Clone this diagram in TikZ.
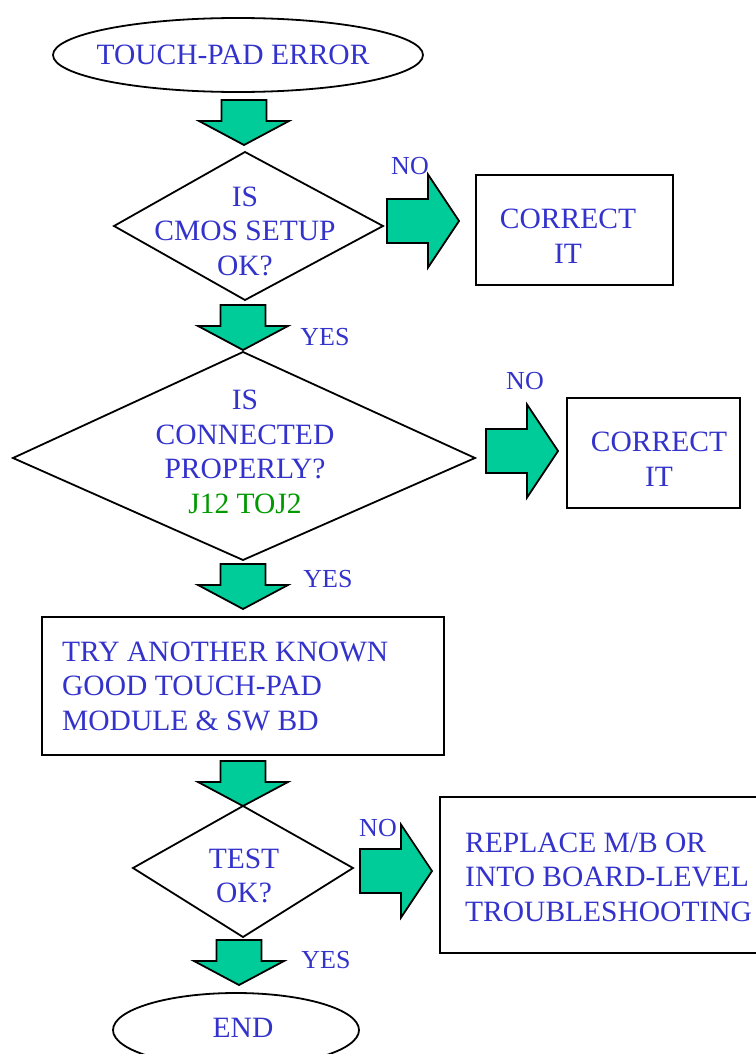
\documentclass[tikz,border=0pt]{standalone}
\usepackage{fontspec}
\setmainfont{Liberation Serif}
\usetikzlibrary{shapes.geometric}
\definecolor{tblue}{HTML}{3333CC}
\definecolor{tgreen}{HTML}{009900}
\definecolor{afill}{HTML}{00CC99}
\begin{document}
\begin{tikzpicture}[x=1pt,y=-1pt,
  outl/.style={draw=black,line width=1.8pt},
  txt/.style={text=tblue,font=\fontsize{29.5}{34.5}\selectfont,inner sep=0pt,align=center},
  lbl/.style={text=tblue,font=\fontsize{26}{30}\selectfont,inner sep=0pt},
  arr/.style={draw=black,line width=1.8pt,fill=afill,line join=miter},
  darr/.pic={\path[arr] (-22.5,0) -- (22.5,0) -- (22.5,21) -- (45,21) -- (0,45) -- (-45,21) -- (-22.5,21) -- cycle;},
  rarr/.pic={\path[arr] (0,-22) -- (41,-22) -- (41,-46.5) -- (72,0) -- (41,46.5) -- (41,22) -- (0,22) -- cycle;}
]
\useasboundingbox (0,0) rectangle (755,1054);
% start
\node[outl,ellipse,minimum width=370,minimum height=74,inner sep=0] (start) at (238,55) {};
\node[txt] (starttxt) at (233,55) {TOUCH-PAD ERROR};
% arrow 1
\pic (a1) at (244,100) {darr};
% diamond 1
\draw[outl] (245,152) coordinate (d1t) -- (383,226) coordinate (d1r) -- (245,300) coordinate (d1b) -- (114,226) coordinate (d1l) -- cycle;
\node[txt] (d1) at (245,231) {IS\\CMOS SETUP\\OK?};
\pic (n1) at (387,221) {rarr};
\node[lbl] (no1) at (410,166) {NO};
\node[outl,rectangle,minimum width=197,minimum height=110,inner sep=0] (b1) at (574.5,230) {};
\node[txt] (b1t) at (568,236) {CORRECT\\IT};
% arrow 2
\pic (a2) at (243,305) {darr};
\node[lbl] (yes1) at (325,337) {YES};
% diamond 2
\draw[outl] (243,352) coordinate (d2t) -- (475,458) coordinate (d2r) -- (243,560) coordinate (d2b) -- (13,458) coordinate (d2l) -- cycle;
\node[txt] (d2) at (245,452) {IS\\CONNECTED\\PROPERLY?\\\textcolor{tgreen}{J12 TOJ2}};
\pic (n2) at (486,451) {rarr};
\node[lbl] (no2) at (525,381) {NO};
\node[outl,rectangle,minimum width=173,minimum height=110,inner sep=0] (b2) at (653.5,453) {};
\node[txt] (b2t) at (659,459) {CORRECT\\IT};
% arrow 3
\pic (a3) at (243,564) {darr};
\node[lbl] (yes2) at (328,579) {YES};
% box 3
\node[outl,rectangle,minimum width=402,minimum height=138,inner sep=0] (b3) at (243,686) {};
\node[txt,align=left,anchor=west] (b3t) at (62,686) {TRY ANOTHER KNOWN\\GOOD TOUCH-PAD\\MODULE \& SW BD};
% arrow 4
\pic (a4) at (243,761) {darr};
% diamond 3
\draw[outl] (243,806) coordinate (d3t) -- (353,868) coordinate (d3r) -- (243,937) coordinate (d3b) -- (133,868) coordinate (d3l) -- cycle;
\node[txt] (d3) at (244,876) {TEST\\OK?};
\pic (n3) at (360,871) {rarr};
\node[lbl] (no3) at (378,828) {NO};
\node[outl,rectangle,minimum width=330,minimum height=156,inner sep=0] (b4) at (605,875) {};
\node[txt,align=left,anchor=west] (b4t) at (465,877) {REPLACE M/B OR\\INTO BOARD-LEVEL\\TROUBLESHOOTING};
% arrow 5
\pic (a5) at (239,940) {darr};
\node[lbl] (yes3) at (326,960) {YES};
% end
\node[outl,ellipse,minimum width=246,minimum height=74,inner sep=0] (end) at (236,1030) {};
\node[txt] (endtxt) at (243,1028) {END};
\end{tikzpicture}
\end{document}
